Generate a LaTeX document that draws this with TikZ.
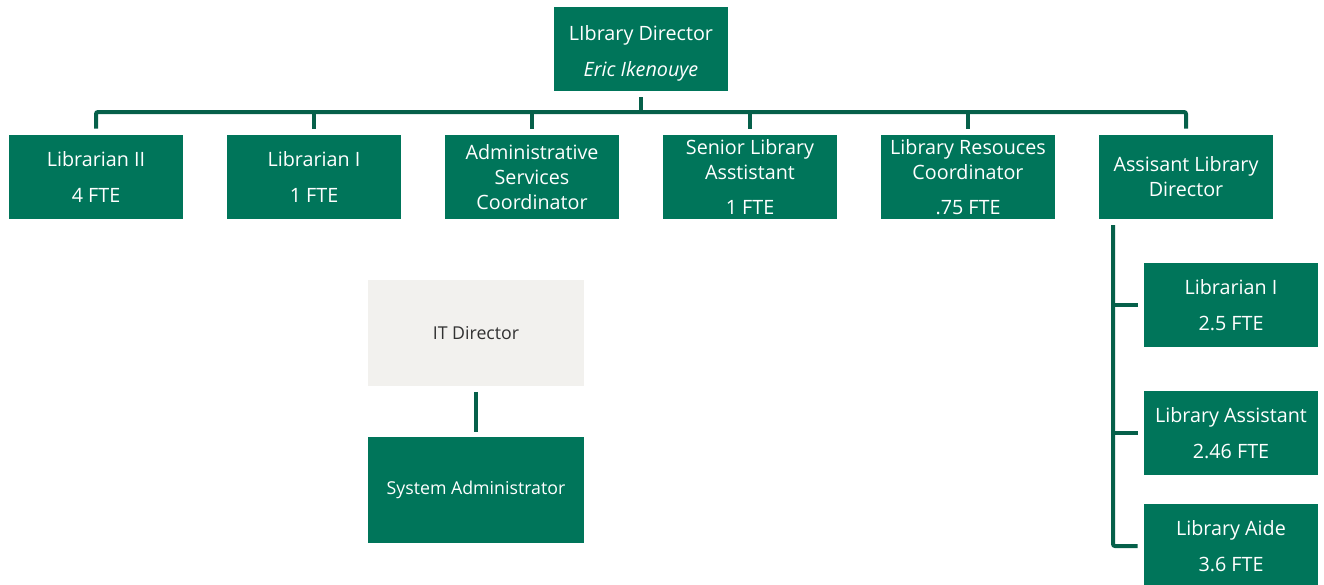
\documentclass[tikz,border=0pt]{standalone}
\usepackage{fontspec}
\setmainfont{Open Sans}
\usepackage{xcolor}
\usetikzlibrary{positioning}

\definecolor{boxgreen}{RGB}{0,117,90}
\definecolor{linegreen}{RGB}{6,96,74}
\definecolor{itgray}{RGB}{242,241,238}
\definecolor{ittext}{RGB}{50,50,50}

\begin{document}
\begin{tikzpicture}[
  x=0.75pt, y=-0.75pt,
  every node/.style={rectangle, inner sep=0pt, align=center, text=white,
    font=\fontsize{14.8pt}{18.75pt}\selectfont},
  role/.style={fill=boxgreen, minimum width=130.5pt, minimum height=63pt},
  itbox/.style={minimum width=162pt, minimum height=79pt,
    font=\fontsize{13.3pt}{16pt}\selectfont},
  link/.style={draw=linegreen, line width=3pt, rounded corners=1.5pt},
]
\useasboundingbox (0,0) rectangle (1324,585);

% Nodes - Row 0 (top)
\node[role] (dir) at (641,49) {\rule{0pt}{18pt}LIbrary Director\\[8.5pt]\itshape Eric Ikenouye};

% Nodes - Row 1 (direct reports)
\node[role] (lib2)   at (96,177)   {Librarian II\\[8pt]4 FTE};
\node[role] (lib1)   at (314,177)  {Librarian I\\[8pt]1 FTE};
\node[role] (admin)  at (532,177)  {Administrative\\Services\\Coordinator};
\node[role] (senior) at (750,177)  {Senior Library\\Asstistant\\[8pt]1 FTE};
\node[role] (res)    at (968,177)  {Library Resouces\\Coordinator\\[8pt].75 FTE};
\node[role] (asst)   at (1186,177) {Assisant Library\\Director};

% Nodes - under the assistant director
\node[role] (sub1)    at (1231,305) {Librarian I\\[8pt]2.5 FTE};
\node[role] (subasst) at (1231,433) {Library Assistant\\[8pt]2.46 FTE};
\node[role] (aide)    at (1231,546) {Library Aide\\[8pt]3.6 FTE};

% Nodes - IT
\node[itbox, fill=itgray, text=ittext] (it) at (476,333) {IT Director};
\node[itbox, fill=boxgreen] (sysadm) at (476,490) {System Administrator};

% Bus under the director
\coordinate (bus) at (641,112);
\coordinate (trunk) at (1113,225);

\draw[link] ([yshift=-4.5pt]dir.south) -- (bus);
\draw[link] ([yshift=4.5pt]lib2.north) |- (bus) -| ([yshift=4.5pt]asst.north);
\foreach \n in {lib1,admin,senior,res}
  \draw[link] ([yshift=4.5pt]\n.north) -- (\n.north |- bus);

% Trunk on the right
\draw[link] (trunk) |- ([xshift=-4.5pt]aide.west);
\foreach \n in {sub1,subasst}
  \draw[link] ([xshift=-4.5pt]\n.west) -- (\n.west -| trunk);

% IT edge
\draw[link] ([yshift=-4.5pt]it.south) -- ([yshift=3.5pt]sysadm.north);

\end{tikzpicture}
\end{document}
